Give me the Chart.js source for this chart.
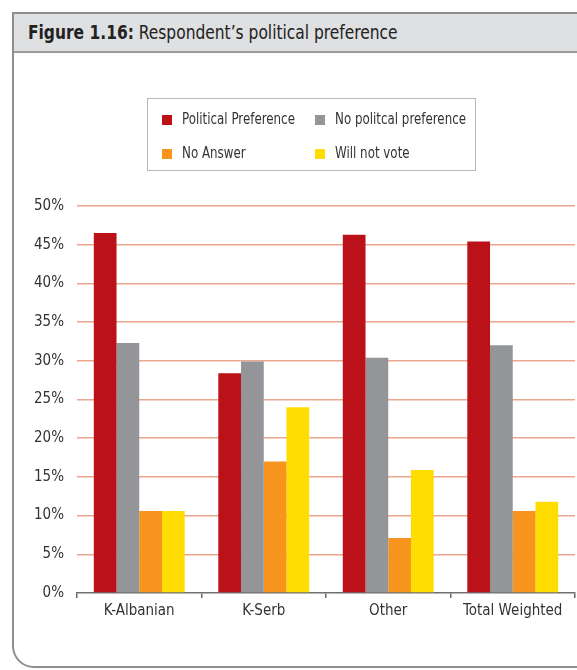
<!DOCTYPE html>
<html>
<head>
<meta charset="utf-8">
<script src="https://cdn.jsdelivr.net/npm/chart.js@4.4.1/dist/chart.umd.min.js"></script>
<style>
  html, body { margin: 0; padding: 0; width: 577px; height: 670px; overflow: hidden; background: #fff; }
  .frame {
    position: absolute; left: 12px; top: 12px; width: 620px; height: 656px;
    border: 2px solid #8e8e8e; border-bottom-left-radius: 22px; box-sizing: border-box;
  }
  .header {
    height: 37px; background: #dfe0e1; border-bottom: 2px solid #9a9a9a;
    font-family: "Liberation Sans Narrow", "DejaVu Sans Condensed", sans-serif;
    font-size: 20px; color: #222; line-height: 37px; padding-left: 14px;
  }
  .header span { display: inline-block; transform: scaleX(0.86); transform-origin: left center; white-space: nowrap; }
  .header b { font-weight: bold; }
  #wrap { position: absolute; left: 0; top: 0; width: 577px; height: 670px; }
</style>
</head>
<body>
<div class="frame"><div class="header"><span><b>Figure 1.16:</b> Respondent’s political preference</span></div></div>
<div id="wrap"><canvas id="grafica"></canvas></div>
<script>
const categorias = ['K-Albanian', 'K-Serb', 'Other', 'Total Weighted'];
const series = ['Political Preference', 'No politcal preference', 'No Answer', 'Will not vote'];
const preferencia = [46.5, 28.4, 46.3, 45.4];
const sinPreferencia = [32.3, 29.9, 30.4, 32.0];
const sinRespuesta = [10.6, 17.0, 7.1, 10.6];
const noVotara = [10.6, 24.0, 15.9, 11.8];
const colores = ['#bb1219', '#939598', '#f7941d', '#ffdd00'];
const fuente = '"Liberation Sans Narrow", "DejaVu Sans Condensed", sans-serif';

// leyenda en dos columnas con marco
const leyendaCaja = {
    id: 'leyendaCaja',
    afterDraw(chart) {
        const ctx = chart.ctx;
        ctx.save();
        ctx.strokeStyle = '#b8b8b8';
        ctx.lineWidth = 1;
        ctx.strokeRect(147.5, 98.5, 328, 72);
        const cols = [162, 315];
        const filas = [120, 154];
        ctx.font = '15px ' + fuente;
        ctx.textBaseline = 'middle';
        chart.data.datasets.forEach((ds, i) => {
            const x = cols[i % 2];
            const y = filas[Math.floor(i / 2)];
            ctx.fillStyle = ds.backgroundColor;
            ctx.fillRect(x, y - 5, 10, 10);
            ctx.save();
            ctx.translate(x + 20, y);
            ctx.scale(0.88, 1);
            ctx.fillStyle = '#333';
            ctx.fillText(ds.label, 0, 0);
            ctx.restore();
        });
        ctx.restore();
    }
};

const datos = [preferencia, sinPreferencia, sinRespuesta, noVotara];
const datasets = series.map((nombre, i) => ({
    label: nombre,
    data: datos[i],
    backgroundColor: colores[i],
    borderWidth: 0,
    categoryPercentage: 0.73,
    barPercentage: 1.0
}));

const ctx = document.getElementById('grafica').getContext('2d');
const chart = new Chart(ctx, {
    type: 'bar',
    data: { labels: categorias, datasets: datasets },
    plugins: [leyendaCaja],
    options: {
        responsive: true,
        maintainAspectRatio: false,
        animation: false,
        layout: { padding: { top: 206, right: 2, left: 0, bottom: 0 } },
        plugins: { legend: { display: false }, tooltip: { enabled: false } },
        scales: {
            x: {
                grid: { offset: true, drawOnChartArea: false, drawTicks: true, tickLength: 5, color: '#666', lineWidth: 1.5 },
                border: { display: true, color: '#707070', width: 1.5 },
                ticks: { color: '#333', font: { family: fuente, size: 15 }, padding: 4 },
                afterFit: s => { s.height = 77; }
            },
            y: {
                min: 0, max: 50,
                grid: {
                    drawTicks: false,
                    color: c => c.tick.value === 0 ? 'rgba(0,0,0,0)' : '#eaa78e',
                    lineWidth: 1.5
                },
                border: { display: false },
                ticks: { stepSize: 5, color: '#333', padding: 13, font: { family: fuente, size: 15 }, callback: v => v + '%' },
                afterFit: s => { s.width = 77; }
            }
        }
    }
});
</script>
</body>
</html>
